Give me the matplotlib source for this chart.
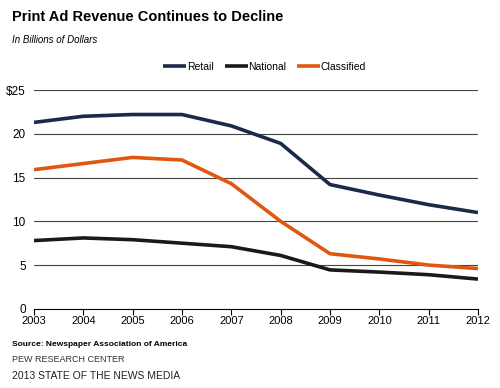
import matplotlib.pyplot as plt

# Данные (млрд долларов)
years = [2003, 2004, 2005, 2006, 2007, 2008, 2009, 2010, 2011, 2012]
retail = [21.3, 22.0, 22.2, 22.2, 20.9, 18.9, 14.2, 13.0, 11.9, 11.0]
national = [7.8, 8.1, 7.9, 7.5, 7.1, 6.1, 4.45, 4.2, 3.9, 3.4]
classified = [15.9, 16.6, 17.3, 17.0, 14.3, 10.0, 6.3, 5.7, 5.0, 4.6]
yticks = [0, 5, 10, 15, 20, 25]
ylabels = ["0", "5", "10", "15", "20", "$25"]

plt.rcParams["font.family"] = ["Liberation Sans Narrow", "Liberation Sans", "DejaVu Sans"]

fig = plt.figure(figsize=(5, 3.88), dpi=100)
ax = fig.add_axes([0.068, 0.204, 0.888, 0.564])

ax.plot(years, retail, color="#1b2a48", lw=2.6, label="Retail", solid_capstyle="butt")
ax.plot(years, national, color="#1a1a1a", lw=2.6, label="National", solid_capstyle="butt")
ax.plot(years, classified, color="#e0570f", lw=2.6, label="Classified", solid_capstyle="butt")

ax.set_xlim(2003, 2012)
ax.set_ylim(0, 25)
ax.set_yticks(yticks)
ax.set_yticklabels(ylabels)
ax.set_xticks(years)
ax.tick_params(axis="y", length=0, pad=6, labelsize=8.5)
ax.tick_params(axis="x", length=4, width=0.8, pad=1, labelsize=8)
for y in yticks[1:]:
    ax.axhline(y, color="#444444", lw=0.8, zorder=0)
for s in ["left", "right", "top"]:
    ax.spines[s].set_visible(False)
ax.spines["bottom"].set_linewidth(0.8)

ax.legend(loc="lower center", bbox_to_anchor=(0.52, 1.04), ncol=3, frameon=False,
          fontsize=7.5, handlelength=2.2, handletextpad=0.1, columnspacing=1.0)

fig.text(0.024, 0.945, "Print Ad Revenue Continues to Decline", fontsize=10.5, weight="bold")
fig.text(0.024, 0.89, "In Billions of Dollars", fontsize=7, style="italic")
fig.text(0.024, 0.108, "Source: Newspaper Association of America", fontsize=6, weight="bold")
fig.text(0.024, 0.066, "PEW RESEARCH CENTER", fontsize=6.5, color="#333333")
fig.text(0.024, 0.022, "2013 STATE OF THE NEWS MEDIA", fontsize=7.5, color="#222222")

fig.savefig("out.png", dpi=100)
